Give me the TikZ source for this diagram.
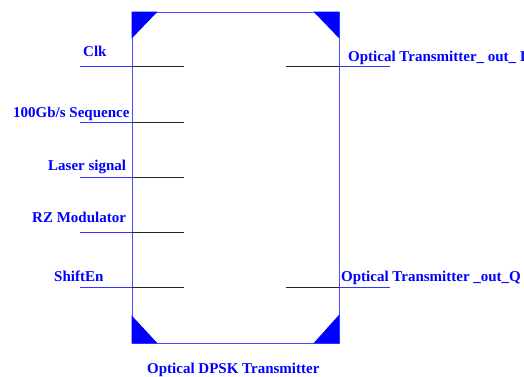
\documentclass[tikz,border=0pt]{standalone}
\usepackage{fontspec}
\setmainfont{Liberation Serif}
\usetikzlibrary{positioning}

\begin{document}
\begin{tikzpicture}[x=1pt,y=-1pt,
	port/.style={font=\bfseries\fontsize{15}{18}\selectfont,text=blue,inner sep=0pt,anchor=base west},
	wire/.style={blue!80,line width=0.8pt},
	stub/.style={black!85,line width=0.8pt},
	corner/.style={fill=blue,draw=none}]
	\useasboundingbox (0,0) rectangle (524,376);

	% the transmitter block
	\node[draw=blue!70,line width=0.8pt,minimum width=207pt,minimum height=331pt,inner sep=0pt] (tx) at (235.5,177.5) {};
	\fill[corner] (tx.north west) -- ++(26,0) -- ++(-26,27) -- cycle;
	\fill[corner] (tx.north east) -- ++(-26,0) -- ++(26,27) -- cycle;
	\fill[corner] (tx.south west) -- ++(26,0) -- ++(-26,-28) -- cycle;
	\fill[corner] (tx.south east) -- ++(-26,0) -- ++(26,-29) -- cycle;

	% input ports
	\coordinate (clk_a) at (80,66);
	\coordinate (seq_a) at (80,122);
	\coordinate (laser_a) at (80,177);
	\coordinate (rz_a) at (80,232);
	\coordinate (shift_a) at (80,287);
	\foreach \p in {clk,seq,laser,rz,shift}{
		\coordinate (\p_b) at (tx.west |- \p_a);
		\coordinate (\p_c) at ([xshift=52pt]\p_b);
		\draw[wire] (\p_a) -- (\p_b);
		\draw[stub] (\p_b) -- (\p_c);
	}
	\node[port] (clk) at (83,56.5) {Clk};
	\node[port] (seq) at (13,117) {100Gb/s Sequence};
	\node[port] (laser) at (48,170) {Laser signal};
	\node[port] (rz) at (32,222) {RZ Modulator};
	\node[port] (shift) at (54,281) {ShiftEn};

	% output ports
	\coordinate (outi_a) at (390,66);
	\coordinate (outq_a) at (390,287);
	\foreach \p in {outi,outq}{
		\coordinate (\p_b) at (tx.east |- \p_a);
		\coordinate (\p_c) at ([xshift=-53pt]\p_b);
		\draw[wire] (\p_a) -- (\p_b);
		\draw[stub] (\p_b) -- (\p_c);
	}
	\node[port] (outi) at (348,61) {Optical Transmitter\_ out\_ I};
	\node[port] (outq) at (341,281) {Optical Transmitter \_out\_Q};

	\node[port] (title) at (147,373) {Optical DPSK Transmitter};
\end{tikzpicture}
\end{document}
